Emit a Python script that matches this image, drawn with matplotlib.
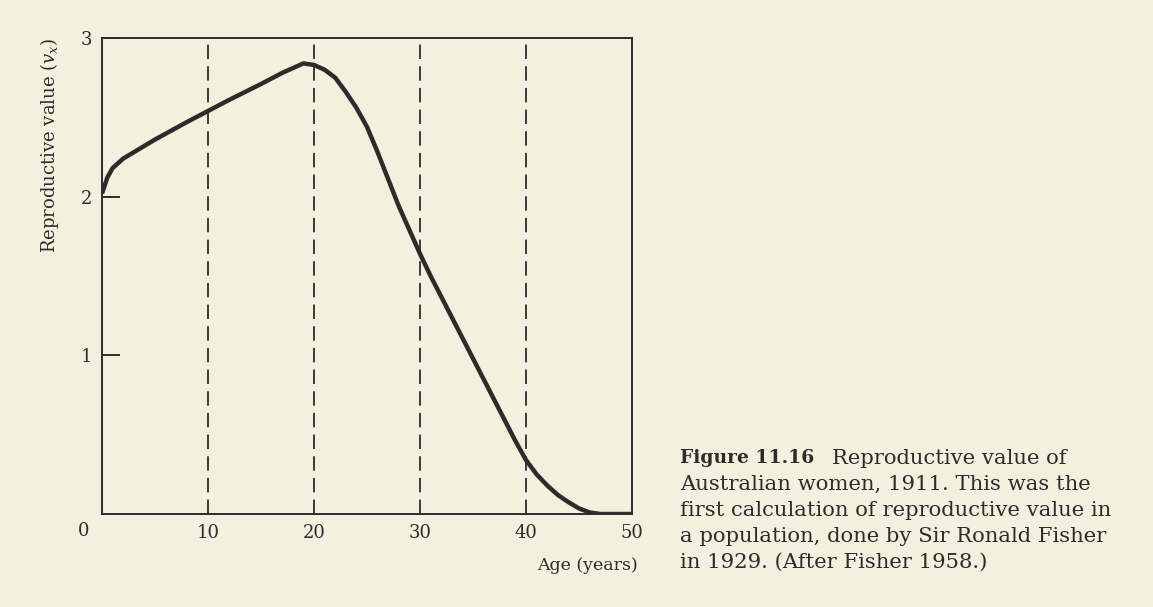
import matplotlib
matplotlib.use("Agg")
import matplotlib.pyplot as plt

# Data
age = [0, 0.5, 1, 1.5, 2, 3, 5, 8, 10, 12, 15, 17, 18, 19, 20, 21, 22, 23, 24,
       25, 26, 27, 28, 29, 30, 31, 32, 33, 34, 35, 36, 37, 38, 39, 40, 41, 42,
       43, 44, 45, 46, 47, 50]
repro_value = [2.02, 2.12, 2.18, 2.21, 2.24, 2.28, 2.36, 2.47, 2.54, 2.61, 2.71,
               2.78, 2.81, 2.84, 2.83, 2.80, 2.75, 2.66, 2.56, 2.44, 2.28, 2.11,
               1.94, 1.79, 1.64, 1.50, 1.37, 1.24, 1.11, 0.98, 0.85, 0.72, 0.59,
               0.46, 0.34, 0.25, 0.18, 0.12, 0.075, 0.035, 0.01, 0.0, 0.0]
dashed_ages = [10, 20, 30, 40]
x_ticks = [10, 20, 30, 40, 50]
y_ticks = [1, 2, 3]

caption_bold = "Figure 11.16"
caption_first = "Reproductive value of"
caption_rest = ["Australian women, 1911. This was the",
                "first calculation of reproductive value in",
                "a population, done by Sir Ronald Fisher",
                "in 1929. (After Fisher 1958.)"]

bg = "#F4EFDF"
ink = "#2E2C2A"
serif = ["DejaVu Serif"]

fig = plt.figure(figsize=(11.53, 6.07), dpi=100, facecolor=bg)
ax = fig.add_axes([102 / 1153, 1 - 514 / 607, 530 / 1153, 476 / 607])
ax.set_facecolor(bg)

for a in dashed_ages:
    ax.axvline(a, color=ink, lw=1.3, ls=(0, (8, 4)))

ax.plot(age, repro_value, color=ink, lw=3.2, solid_capstyle="butt",
        solid_joinstyle="round")

ax.set_xlim(0, 50)
ax.set_ylim(0, 3)
for s in ax.spines.values():
    s.set_color(ink)
    s.set_linewidth(1.4)

ax.set_xticks(x_ticks)
ax.set_xticklabels([str(t) for t in x_ticks], family=serif, fontsize=13, color=ink)
ax.tick_params(axis="x", length=0, pad=7)
ax.set_yticks(y_ticks)
ax.set_yticklabels([str(t) for t in y_ticks], family=serif, fontsize=13, color=ink)
ax.tick_params(axis="y", direction="in", length=13, width=1.4, color=ink, pad=7)
ax.text(-1.7, -0.017, "0", ha="center", va="top", family=serif, fontsize=13,
        color=ink, transform=ax.get_xaxis_transform())

fig.text(638 / 1153, 1 - 566 / 607, "Age (years)", ha="right", va="center",
         family=serif, fontsize=12.5, color=ink)
fig.text(50 / 1153, 1 - 146 / 607, r"Reproductive value ($v_x$)", rotation=90,
         ha="center", va="center", family=serif, fontsize=13, color=ink,
         math_fontfamily="dejavuserif")

x0 = 680 / 1153
ys = [458, 484.5, 510, 536, 562]
fig.text(x0, 1 - ys[0] / 607, caption_bold, ha="left", va="center", family=serif,
         fontsize=13.5, fontweight="bold", color=ink)
fig.text(832 / 1153, 1 - ys[0] / 607, caption_first, ha="left", va="center",
         family=serif, fontsize=15.2, color=ink)
for y, line in zip(ys[1:], caption_rest):
    fig.text(x0, 1 - y / 607, line, ha="left", va="center", family=serif,
             fontsize=15.2, color=ink)

fig.savefig("out.png", dpi=100, facecolor=bg)
